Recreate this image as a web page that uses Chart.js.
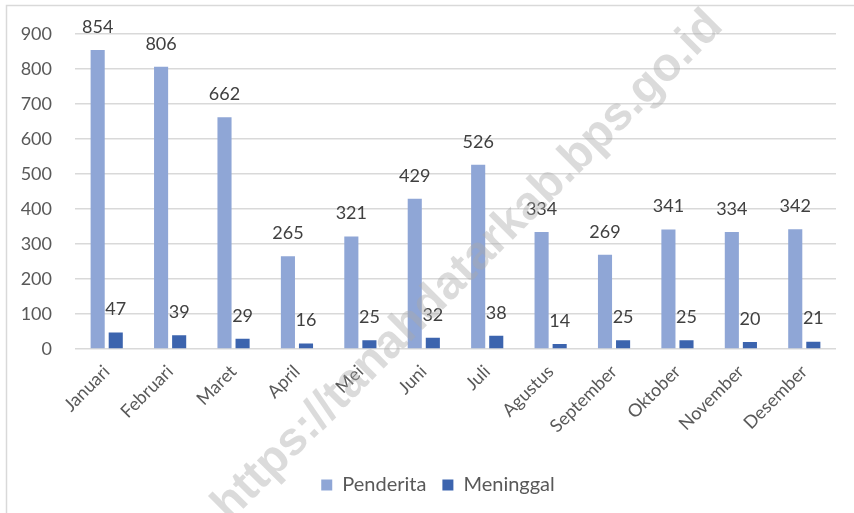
<!DOCTYPE html>
<html>
<head>
<meta charset="utf-8">
<script src="https://cdn.jsdelivr.net/npm/chart.js@4/dist/chart.umd.min.js"></script>
<style>
  html, body { margin: 0; padding: 0; background: #fff; }
  #wrap { width: 854px; height: 513px; position: relative; }
</style>
</head>
<body>
<div id="wrap"><canvas id="myChart"></canvas></div>
<script>
const months = ['Januari', 'Februari', 'Maret', 'April', 'Mei', 'Juni', 'Juli',
  'Agustus', 'September', 'Oktober', 'November', 'Desember'];
const penderita = [854, 806, 662, 265, 321, 429, 526, 334, 269, 341, 334, 342];
const meninggal = [47, 39, 29, 16, 25, 32, 38, 14, 25, 25, 20, 21];
const yTicks = [0, 100, 200, 300, 400, 500, 600, 700, 800, 900];

const FONT = 'Lato, "Open Sans", sans-serif';

// light frame of the chart (only top and left edge are visible)
const frame = {
  id: 'frame',
  beforeDraw(chart) {
    const ctx = chart.ctx;
    ctx.save();
    ctx.strokeStyle = '#d9d9d9';
    ctx.lineWidth = 1.5;
    ctx.beginPath();
    ctx.moveTo(6.5, chart.height);
    ctx.lineTo(6.5, 5.5);
    ctx.lineTo(chart.width, 5.5);
    ctx.stroke();
    ctx.restore();
  },
};

// legend sits a bit right of the canvas centre in the original
const legendShift = {
  id: 'legendShift',
  afterLayout(chart) {
    chart.legend.left += 20;
    chart.legend.right += 20;
  },
};

const valueLabels = {
  id: 'valueLabels',
  afterDatasetsDraw(chart) {
    const ctx = chart.ctx;
    ctx.save();
    ctx.font = '18px ' + FONT;
    ctx.fillStyle = '#404040';
    ctx.textAlign = 'center';
    ctx.textBaseline = 'middle';
    chart.data.datasets.forEach((ds, i) => {
      chart.getDatasetMeta(i).data.forEach((bar, j) => {
        ctx.fillText(ds.data[j], bar.x, bar.y - 23);
      });
    });
    ctx.restore();
  },
};

const watermark = {
  id: 'watermark',
  afterDraw(chart) {
    const ctx = chart.ctx;
    ctx.save();
    ctx.translate(468, 266);
    ctx.rotate(-Math.PI / 4);
    ctx.font = 'bold 47px "Liberation Sans", Arial, sans-serif';
    ctx.fillStyle = 'rgba(170, 170, 170, 0.42)';
    ctx.textAlign = 'center';
    ctx.textBaseline = 'middle';
    ctx.fillText('https://tanahdatarkab.bps.go.id', 0, 0);
    ctx.restore();
  },
};

const myChart = new Chart(document.getElementById('myChart'), {
  type: 'bar',
  data: {
    labels: months,
    datasets: [
      {
        label: 'Penderita',
        data: penderita,
        backgroundColor: '#8FA6D6',
        categoryPercentage: 0.57,
        barPercentage: 0.78,
      },
      {
        label: 'Meninggal',
        data: meninggal,
        backgroundColor: '#3C64AE',
        categoryPercentage: 0.57,
        barPercentage: 0.78,
      },
    ],
  },
  options: {
    responsive: true,
    maintainAspectRatio: false,
    animation: false,
    layout: {
      padding: {left: 0, right: 18, top: 31, bottom: 8},
    },
    plugins: {
      legend: {
        position: 'bottom',
        labels: {
          boxWidth: 11,
          boxHeight: 11,
          padding: 16,
          color: '#595959',
          font: {family: FONT, size: 20},
        },
      },
      tooltip: {enabled: false},
    },
    scales: {
      x: {
        grid: {display: false},
        border: {display: false},
        ticks: {
          color: '#595959',
          font: {family: FONT, size: 18},
          minRotation: 45,
          maxRotation: 45,
          padding: 4,
        },
        afterFit(scale) {
          scale.height = 110;
        },
      },
      y: {
        min: 0,
        max: 900,
        afterBuildTicks(scale) {
          scale.ticks = yTicks.map((v) => ({value: v}));
        },
        grid: {color: '#d9d9d9', lineWidth: 1.5, drawTicks: false},
        border: {display: false},
        ticks: {
          color: '#595959',
          font: {family: FONT, size: 18},
          padding: 23,
        },
        afterFit(scale) {
          scale.width = 75;
        },
      },
    },
  },
  plugins: [frame, legendShift, valueLabels, watermark],
});
</script>
</body>
</html>
